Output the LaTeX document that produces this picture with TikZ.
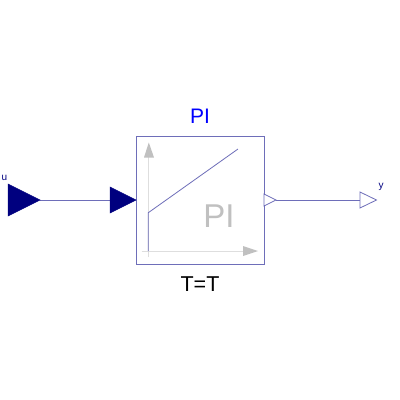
\documentclass[tikz,border=0pt]{standalone}
\usepackage{fontspec}
\setmainfont{Liberation Sans}
\usetikzlibrary{calc}
\definecolor{portblue}{RGB}{0,0,127}
\definecolor{wireblue}{RGB}{110,110,185}
\definecolor{axisgray}{RGB}{192,192,192}
\definecolor{axislight}{RGB}{222,222,222}
\tikzset{
    wire/.style={wireblue,line width=0.8pt},
    axisline/.style={axislight,line width=1pt},
    axistip/.style={fill=axisgray,draw=none},
    portfill/.style={fill=portblue,draw=portblue,line width=0.5pt},
    portopen/.style={fill=white,draw=wireblue,line width=0.8pt},
}
\begin{document}
\begin{tikzpicture}[x=1pt,y=-1pt]
\useasboundingbox (0,0) rectangle (400,400);

% Block
\node[draw=wireblue,line width=0.8pt,fill=white,minimum width=128pt,minimum height=128pt,inner sep=0pt,anchor=north west] (block) at (136,136) {};

% Axes
\draw[axisline] (148.3,257) -- (148.3,157);
\draw[axisline] (141.5,251) -- (243,251);
\fill[axistip] (148.8,142.5) -- (154,157.5) -- (144,157.5) -- cycle;
\fill[axistip] (258,251) -- (243,246) -- (243,256) -- cycle;

% PI curve
\draw[wire] (148.3,251) -- (148.3,212.7) -- (238,149);

% Inner label
\node[axisgray,font=\fontsize{33}{33}\selectfont] (inner) at (219,216) {PI};

% Labels
\node[blue,font=\fontsize{21}{21}\selectfont] (name) at (200,116) {PI};
\node[black,font=\fontsize{21.5}{21.5}\selectfont] (param) at (200,284) {T=T};
\node[portblue,font=\fontsize{10}{10}\selectfont] (ulabel) at (4.5,178) {u};
\node[portblue,font=\fontsize{10}{10}\selectfont] (ylabel) at (381,186.5) {y};

% Ports
\coordinate (uin) at (40,200);
\coordinate (blockin) at (110,200);
\coordinate (blockout) at (276,200);
\coordinate (yout) at (360,200);
\draw[wire] (uin) -- (blockin);
\draw[wire] (blockout) -- (yout);
\filldraw[portfill] (8,184) -- (uin) -- (8,216) -- cycle;
\filldraw[portfill] (blockin) ++(0,-13) -- (136,200) -- (110,213) -- cycle;
\filldraw[portopen] (264,194) -- (blockout) -- (264,206) -- cycle;
\filldraw[portopen] (yout) ++(0,-8) -- (376.5,200) -- (360,208) -- cycle;

\end{tikzpicture}
\end{document}
